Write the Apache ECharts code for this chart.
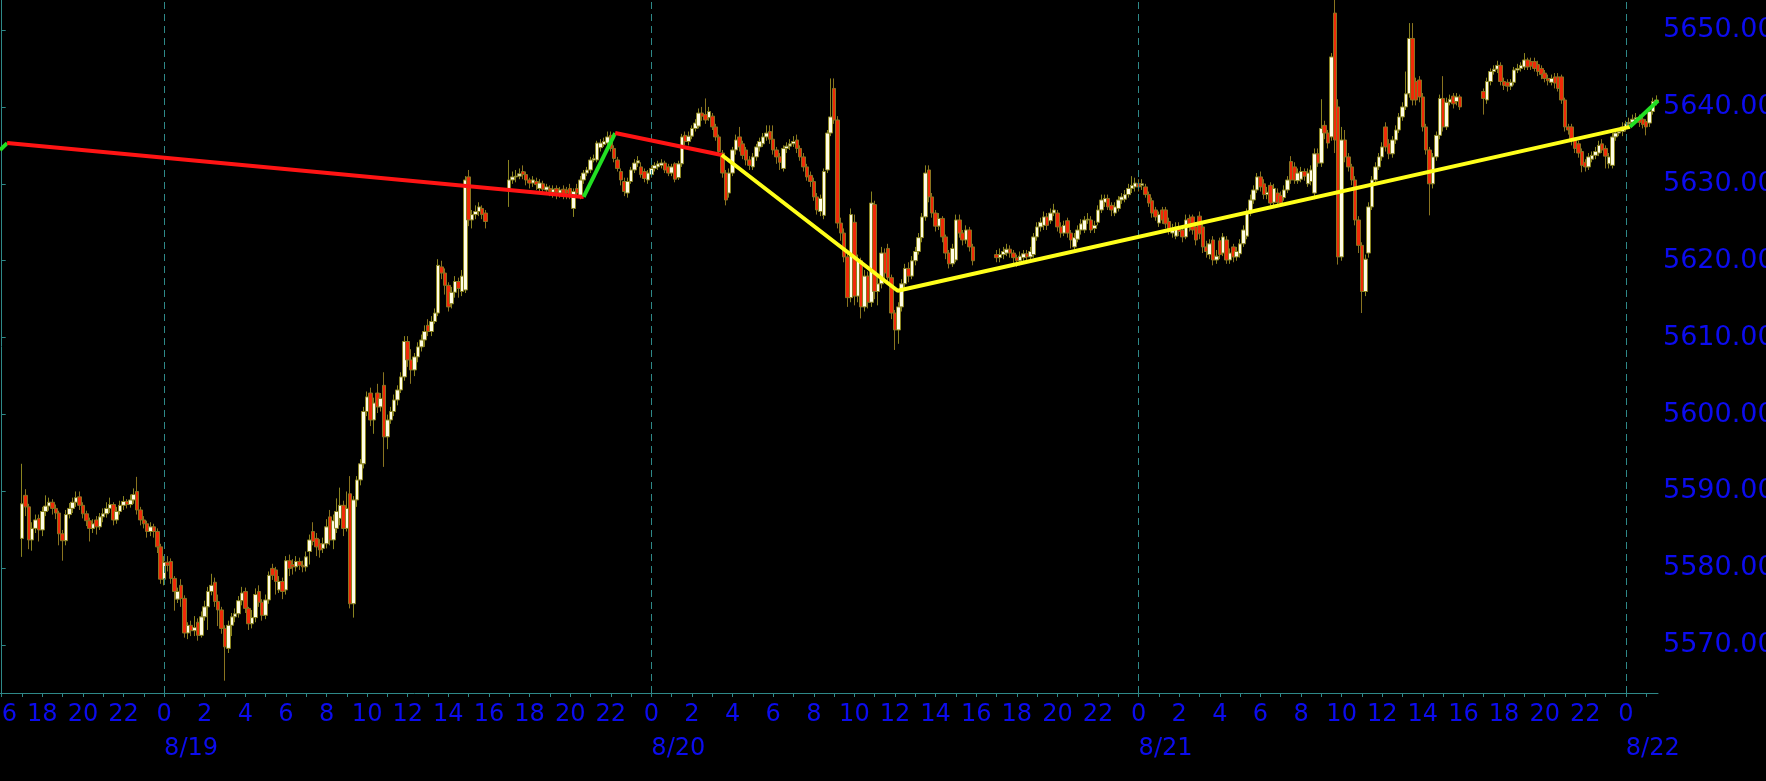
<!DOCTYPE html>
<html><head><meta charset="utf-8">
<script src="https://cdn.jsdelivr.net/npm/echarts@6/dist/echarts.min.js"></script>
<style>html,body{margin:0;padding:0;background:#000;}#c{width:1766px;height:781px;}</style>
</head><body><div id="c"></div>
<script>
// ---- time slots: 10-minute bars from 8/18 16:00 to 8/22 01:30 ----
const firstSlot = {day: 18, hour: 16};
const slotCount = 490;
const hourLabelStep = 2;      // hour labels every 2 hours
const priceMin = 5563.8, priceMax = 5653.9;

// ---- candle values, each bar: [open, close, low, high] ----
// session starting 8/18 17:00
const session0818 = [
[5583.9,5588.4,5581.5,5593.6],[5589.5,5588.0,5586.8,5590.3],[5588.0,5583.7,5582.5,5588.4],[5583.7,5585.2,5582.3,5586.0],[5585.2,5586.3,5584.6,5587.0],[5586.5,5585.0,5583.5,5587.0],
[5585.0,5587.4,5584.2,5588.0],[5587.4,5588.1,5586.8,5589.5],[5588.1,5588.6,5587.5,5589.2],[5588.6,5587.8,5587.0,5589.0],[5587.8,5587.2,5586.4,5588.3],[5587.2,5584.5,5583.0,5587.5],
[5584.5,5583.6,5581.0,5585.0],[5583.6,5587.0,5583.0,5587.6],[5587.0,5587.8,5586.5,5588.5],[5587.8,5588.6,5587.2,5589.2],[5588.6,5589.2,5588.0,5590.0],[5589.3,5588.2,5587.6,5590.0],
[5588.2,5587.1,5586.5,5588.6],[5587.1,5586.2,5585.5,5587.5],[5586.2,5585.2,5583.5,5586.6],[5585.2,5585.8,5584.6,5586.4],[5586.3,5585.4,5584.4,5586.8],[5585.4,5586.7,5585.0,5587.2],
[5586.7,5587.1,5586.0,5587.8],[5587.1,5587.8,5586.6,5588.6],[5587.8,5588.3,5587.2,5589.2],[5588.3,5586.3,5585.6,5588.6],[5586.3,5587.4,5585.8,5588.0],[5587.4,5588.2,5587.0,5588.8],
[5588.2,5588.7,5587.6,5589.4],[5588.7,5588.3,5587.8,5589.0],[5588.3,5588.9,5587.9,5589.6],[5588.9,5589.6,5588.4,5590.4],[5590.0,5587.6,5587.0,5591.9],[5587.6,5586.3,5585.6,5588.0],
[5586.3,5585.8,5585.2,5586.8],[5585.8,5584.8,5584.0,5586.2],[5584.8,5585.4,5584.2,5586.0],[5585.4,5584.8,5584.0,5585.8],[5584.8,5582.8,5582.0,5585.2],[5582.8,5578.6,5578.0,5583.2],
[5578.6,5580.8,5577.8,5581.6],[5580.8,5580.4,5579.6,5581.6],[5580.9,5578.7,5578.0,5581.3],[5578.7,5577.0,5574.5,5579.0],[5576.0,5577.0,5575.5,5577.5],[5577.8,5576.1,5575.0,5578.6],
[5576.1,5571.6,5571.0,5576.5],[5571.6,5572.6,5570.8,5573.0],[5572.6,5571.9,5571.2,5573.2],[5571.9,5572.3,5571.2,5573.8],[5573.0,5571.3,5570.6,5573.5],[5571.3,5573.7,5571.0,5574.4],
[5573.7,5575.0,5573.2,5575.8],[5575.0,5577.0,5572.0,5577.6],[5577.0,5577.8,5576.5,5579.3],[5578.2,5575.7,5575.0,5578.8],[5575.7,5574.6,5572.5,5576.6],[5574.6,5572.2,5571.5,5575.0],
[5572.2,5569.8,5565.4,5572.6],[5569.6,5572.6,5569.0,5573.2],[5572.6,5573.7,5571.2,5574.2],[5573.7,5574.1,5573.0,5574.8],[5574.1,5575.8,5573.6,5576.4],[5575.8,5576.8,5575.2,5577.6],
[5577.0,5574.8,5574.2,5577.5],[5574.8,5572.8,5572.0,5575.0],[5572.8,5573.6,5572.2,5574.6],[5573.6,5576.6,5573.0,5577.4],[5577.0,5575.6,5575.0,5577.8],[5575.6,5573.9,5573.2,5576.0],
[5573.9,5575.9,5573.4,5576.6],[5575.9,5579.1,5575.4,5579.6],[5580.0,5579.1,5578.5,5580.6],[5579.8,5578.3,5576.6,5580.2],[5577.2,5578.3,5576.8,5579.0],[5578.3,5577.0,5576.0,5578.8],
[5577.2,5581.0,5576.6,5581.6],[5581.0,5580.0,5579.0,5581.8],[5580.5,5580.2,5579.2,5581.2],[5580.2,5580.9,5579.6,5581.6],[5580.9,5580.4,5579.8,5581.4],[5580.4,5580.2,5579.5,5581.0],
[5580.2,5581.5,5579.6,5582.2],[5582.2,5583.7,5580.5,5584.4],[5584.8,5583.5,5583.0,5586.0],[5583.9,5582.8,5581.6,5584.6],[5583.2,5582.4,5581.4,5583.8],[5582.6,5583.2,5582.0,5584.0],
[5583.2,5585.4,5582.6,5586.4],[5586.7,5583.7,5583.0,5587.6],[5583.7,5586.2,5582.5,5587.0],[5585.2,5587.4,5584.6,5589.1],[5586.5,5588.2,5585.6,5590.5],[5588.2,5585.2,5584.2,5588.8],
[5585.2,5587.8,5584.8,5590.0],[5589.7,5575.4,5574.8,5592.0],[5575.4,5588.9,5573.6,5589.4],[5588.9,5591.5,5588.0,5592.0],[5591.5,5593.6,5590.8,5594.2],[5593.6,5600.4,5593.0,5601.0],
[5600.4,5602.3,5599.8,5603.0],[5602.8,5599.3,5598.5,5603.5],[5599.3,5601.5,5597.5,5602.2],[5602.8,5601.0,5600.2,5604.0],[5601.0,5602.1,5600.4,5602.8],[5603.8,5597.1,5593.2,5605.5],
[5597.1,5599.3,5595.5,5600.0],[5599.3,5600.4,5598.8,5601.0],[5600.4,5601.9,5599.8,5602.6],[5601.9,5603.2,5601.2,5603.8],[5603.2,5604.9,5602.8,5605.5],[5604.9,5609.5,5604.4,5610.2],
[5609.5,5607.1,5606.2,5610.2],[5607.1,5605.8,5604.0,5608.5],[5605.8,5607.5,5605.0,5608.0],[5607.5,5608.8,5606.8,5609.4],[5608.8,5609.7,5608.2,5610.4],[5609.7,5610.8,5608.8,5611.6],
[5611.6,5610.8,5610.2,5612.4],[5610.8,5612.1,5610.2,5612.8],[5612.1,5613.2,5611.8,5613.8],[5613.2,5619.4,5612.8,5620.2],[5619.2,5618.4,5617.6,5620.0],[5618.4,5616.8,5615.6,5619.0],
[5616.8,5614.0,5613.4,5617.2],[5614.4,5615.9,5613.8,5616.6],[5615.9,5617.3,5615.2,5618.0],[5617.3,5616.4,5615.2,5617.8],[5616.0,5618.0,5615.4,5618.8],[5616.2,5630.5,5615.8,5631.0],
[5630.9,5625.3,5624.5,5631.8],[5625.3,5626.0,5624.2,5626.6],[5626.0,5626.4,5625.4,5627.2],[5626.4,5627.0,5625.8,5627.6],[5626.8,5626.0,5625.4,5627.2],[5626.2,5625.1,5624.2,5626.6]
];
// session starting 8/19 17:00
const session0819 = [
[5629.4,5630.5,5627.0,5633.1],[5630.5,5630.9,5630.0,5631.6],[5630.9,5631.0,5630.2,5631.8],[5631.0,5631.3,5630.6,5632.0],[5631.6,5631.2,5630.6,5632.4],[5631.2,5630.5,5629.8,5631.6],
[5630.5,5630.1,5629.4,5630.8],[5630.1,5630.5,5629.6,5631.0],[5630.3,5629.9,5629.2,5630.8],[5629.4,5630.1,5628.8,5630.6],[5630.0,5629.3,5628.8,5630.4],[5629.2,5629.6,5628.6,5630.0],
[5629.4,5629.0,5628.4,5629.8],[5628.9,5629.3,5628.2,5629.8],[5629.4,5628.9,5628.0,5629.8],[5628.8,5629.2,5628.2,5629.6],[5629.3,5628.7,5628.0,5629.8],[5629.2,5628.8,5628.0,5629.6],
[5629.4,5628.5,5628.0,5630.0],[5626.8,5629.0,5625.7,5629.4],[5629.4,5628.8,5628.2,5630.0],[5628.5,5630.5,5628.0,5631.0],[5630.5,5631.4,5630.0,5631.8],[5631.4,5631.8,5631.0,5632.2],
[5631.8,5633.1,5631.4,5633.5],[5633.1,5633.3,5632.8,5633.8],[5633.1,5635.3,5632.8,5635.6],[5634.7,5635.3,5634.2,5635.8],[5635.1,5635.5,5634.8,5636.0],[5635.3,5636.1,5635.0,5636.8],
[5636.3,5634.6,5634.2,5636.8],[5634.6,5633.3,5632.8,5635.0],[5633.1,5632.0,5631.6,5633.5],[5631.6,5630.5,5629.8,5632.0],[5630.3,5629.0,5628.4,5630.8],[5628.8,5630.3,5628.2,5630.8],
[5630.3,5631.8,5630.0,5632.2],[5631.8,5632.7,5631.4,5633.2],[5632.7,5633.0,5632.2,5633.6],[5632.2,5631.2,5630.8,5632.8],[5631.6,5630.7,5630.2,5632.0],[5630.5,5631.4,5630.0,5631.8],
[5631.2,5632.0,5630.8,5632.4],[5632.0,5632.4,5631.6,5632.8],[5632.2,5632.6,5631.8,5633.0],[5632.4,5632.7,5632.0,5633.2],[5632.7,5631.8,5631.4,5633.0],[5632.2,5631.4,5631.0,5632.6],
[5631.4,5632.2,5631.0,5632.6],[5632.6,5630.6,5630.2,5632.8],[5630.8,5632.6,5630.5,5633.0],[5632.6,5636.1,5632.2,5636.5],[5636.3,5635.5,5635.0,5636.8],[5635.5,5636.2,5635.0,5636.8],
[5636.2,5637.2,5635.8,5637.6],[5637.2,5637.9,5636.8,5638.4],[5637.5,5639.2,5637.2,5639.8],[5639.2,5638.8,5638.2,5640.0],[5639.0,5638.3,5637.8,5641.1],[5638.6,5639.4,5638.2,5640.0],
[5638.8,5637.4,5637.0,5639.2],[5637.4,5636.1,5635.6,5637.8],[5636.1,5634.2,5633.8,5636.4],[5634.0,5631.4,5630.8,5634.4],[5631.4,5627.9,5627.2,5631.8],[5628.8,5631.4,5628.2,5632.0],
[5631.4,5634.4,5631.0,5634.8],[5634.4,5635.7,5633.8,5636.4],[5636.1,5634.8,5634.2,5637.4],[5635.2,5633.7,5633.2,5635.6],[5634.4,5633.1,5632.4,5634.8],[5633.1,5632.4,5631.8,5633.6],
[5632.2,5633.5,5631.8,5634.0],[5633.5,5634.8,5633.0,5635.2],[5634.8,5635.5,5634.2,5636.0],[5635.2,5636.1,5634.8,5636.6],[5636.1,5636.6,5635.6,5637.6],[5636.8,5635.8,5635.2,5637.6],
[5635.8,5634.4,5633.8,5637.6],[5634.4,5633.5,5632.6,5634.8],[5633.5,5632.8,5631.8,5634.0],[5632.0,5634.6,5631.6,5635.0],[5634.6,5634.9,5634.0,5635.4],[5634.9,5635.2,5634.4,5635.8],
[5635.2,5635.5,5634.8,5636.2],[5635.7,5634.6,5634.0,5636.4],[5634.6,5633.5,5633.0,5635.0],[5633.5,5632.2,5631.6,5634.0],[5632.2,5630.9,5630.4,5632.6],[5631.1,5630.3,5629.6,5631.6],
[5630.3,5628.3,5627.8,5630.8],[5628.3,5626.6,5626.0,5628.8],[5626.4,5628.1,5625.8,5628.6],[5625.9,5631.6,5625.4,5632.0],[5631.8,5636.6,5631.4,5637.0],[5636.6,5638.7,5636.2,5643.7],
[5642.4,5638.3,5637.8,5643.7],[5638.3,5624.9,5624.2,5638.8],[5624.9,5623.6,5622.6,5625.6],[5623.6,5620.5,5619.8,5624.2],[5620.5,5615.2,5614.0,5621.0],[5615.2,5626.0,5614.6,5626.8],
[5625.0,5615.4,5614.2,5626.0],[5615.4,5620.0,5614.6,5620.8],[5620.0,5614.0,5612.5,5620.4],[5614.0,5618.0,5613.4,5618.8],[5618.0,5614.6,5613.8,5618.6],[5614.6,5627.5,5614.0,5629.0],
[5627.3,5616.0,5615.0,5627.8],[5616.0,5617.0,5614.2,5618.0],[5617.0,5621.0,5616.4,5621.8],[5621.0,5618.4,5617.6,5621.6],[5621.6,5617.8,5617.0,5622.2],[5617.8,5613.2,5612.4,5618.2],
[5613.2,5611.0,5608.4,5613.6],[5611.0,5614.0,5609.2,5614.6],[5614.0,5617.0,5613.4,5617.6],[5617.0,5619.0,5616.4,5619.6],[5619.0,5618.0,5617.2,5619.8],[5618.0,5620.0,5617.6,5620.6],
[5620.0,5621.2,5619.4,5621.8],[5621.2,5623.0,5620.8,5623.6],[5623.0,5625.7,5622.4,5626.2],[5625.7,5631.4,5625.2,5632.4],[5631.8,5628.3,5627.6,5632.4],[5628.3,5626.2,5625.6,5628.8],
[5626.2,5624.5,5623.8,5626.6],[5624.5,5625.5,5624.0,5626.2],[5625.5,5623.1,5622.4,5625.8],[5623.1,5621.0,5620.2,5623.4],[5621.0,5619.6,5619.0,5621.4],[5619.6,5621.6,5619.2,5622.2],
[5620.1,5625.3,5619.8,5626.0],[5625.3,5623.6,5623.0,5626.0],[5623.6,5622.7,5622.0,5624.0],[5622.7,5624.0,5622.2,5624.6],[5624.0,5621.8,5621.2,5624.4],[5621.8,5620.0,5619.4,5622.2]
];
// session starting 8/20 17:00
const session0820 = [
[5620.8,5620.4,5619.8,5621.4],[5620.4,5620.8,5619.8,5621.6],[5620.8,5621.2,5620.2,5621.8],[5621.0,5621.5,5620.6,5622.2],[5621.5,5621.0,5620.4,5622.0],[5621.0,5620.4,5619.6,5621.4],
[5620.4,5620.0,5619.2,5620.8],[5620.0,5620.6,5619.4,5621.2],[5620.4,5620.9,5619.8,5621.4],[5620.9,5620.5,5619.6,5621.4],[5620.5,5621.2,5620.0,5621.8],[5620.8,5623.1,5620.4,5623.6],
[5623.1,5624.4,5622.6,5625.0],[5624.4,5625.0,5623.8,5625.6],[5624.6,5625.7,5624.0,5626.4],[5625.7,5624.6,5624.0,5626.2],[5625.2,5626.2,5624.8,5626.8],[5626.2,5626.6,5625.8,5627.4],
[5626.2,5624.4,5623.8,5626.6],[5624.4,5623.6,5623.0,5625.0],[5623.6,5624.6,5623.2,5625.2],[5625.2,5623.6,5623.0,5625.6],[5623.6,5622.7,5621.6,5624.0],[5621.8,5623.0,5621.2,5623.6],
[5622.8,5624.0,5622.4,5624.6],[5624.0,5624.8,5623.4,5625.4],[5624.0,5625.3,5623.6,5625.8],[5625.3,5625.4,5624.8,5626.2],[5625.3,5624.0,5623.6,5625.8],[5624.2,5624.6,5623.6,5625.2],
[5625.0,5626.6,5624.6,5627.2],[5626.6,5627.9,5626.2,5628.6],[5627.6,5628.1,5627.0,5628.6],[5628.1,5627.0,5626.6,5628.6],[5627.2,5626.6,5625.8,5627.6],[5626.2,5627.0,5625.8,5627.6],
[5626.8,5627.9,5626.4,5628.4],[5627.9,5628.3,5627.4,5628.8],[5628.0,5628.6,5627.6,5629.2],[5628.6,5629.4,5628.2,5630.0],[5629.4,5629.8,5628.8,5631.0],[5629.6,5630.1,5629.0,5630.8],
[5630.0,5629.6,5629.0,5630.6],[5629.8,5630.0,5629.2,5630.6],[5629.6,5628.6,5628.2,5630.0],[5628.6,5627.5,5627.0,5629.0],[5627.8,5626.2,5625.6,5628.2],[5626.6,5625.7,5625.2,5627.0],
[5624.9,5626.0,5624.4,5626.4],[5626.6,5625.3,5624.8,5627.0],[5626.6,5624.8,5624.2,5627.0],[5625.1,5624.0,5623.4,5625.6],[5623.6,5624.2,5623.0,5624.8],[5623.2,5624.4,5622.8,5625.0],
[5624.4,5623.8,5623.2,5625.0],[5624.0,5623.1,5622.4,5624.4],[5623.1,5625.3,5622.8,5626.0],[5625.5,5624.4,5623.8,5626.0],[5625.7,5624.0,5623.4,5626.0],[5624.4,5622.7,5622.0,5625.0],
[5625.8,5623.5,5622.8,5626.4],[5624.4,5621.8,5621.0,5624.8],[5621.8,5621.2,5620.4,5622.6],[5620.8,5622.2,5620.2,5622.8],[5622.7,5620.1,5619.4,5623.2],[5620.1,5620.6,5619.6,5621.4],
[5622.6,5620.8,5620.2,5623.0],[5621.0,5623.1,5620.6,5623.6],[5622.7,5620.1,5619.6,5623.2],[5620.1,5621.0,5619.6,5621.6],[5621.8,5620.5,5619.8,5622.2],[5620.5,5621.2,5620.0,5621.8],
[5620.9,5622.2,5620.4,5622.8],[5622.2,5624.0,5621.8,5624.6],[5623.2,5626.2,5622.8,5626.8],[5626.2,5627.9,5625.8,5628.6],[5627.9,5629.2,5627.4,5629.8],[5629.2,5630.9,5628.8,5631.4],
[5630.9,5629.6,5629.0,5631.6],[5630.0,5628.6,5628.0,5630.6],[5628.6,5628.9,5628.0,5629.6],[5629.8,5627.5,5626.8,5630.2],[5627.6,5629.4,5627.2,5630.0],[5628.8,5627.6,5627.0,5629.4],
[5628.5,5627.5,5627.0,5629.0],[5628.2,5629.2,5627.8,5629.8],[5629.2,5630.5,5628.8,5631.0],[5632.9,5630.5,5630.0,5633.6],[5632.2,5630.5,5630.0,5632.8],[5630.4,5631.4,5630.0,5632.0],
[5630.6,5631.6,5630.2,5632.2],[5631.6,5631.0,5630.4,5632.0],[5630.0,5631.4,5629.6,5632.0],[5630.3,5631.8,5629.8,5632.4],[5628.8,5633.9,5628.0,5634.6],[5633.9,5632.7,5632.2,5634.6],
[5632.7,5637.2,5632.2,5641.0],[5637.6,5636.6,5635.8,5638.2],[5636.6,5635.3,5634.6,5637.0],[5636.1,5646.5,5635.6,5647.0],[5652.2,5635.7,5634.0,5654.0],[5640.0,5620.5,5619.5,5641.0],
[5620.5,5635.7,5620.0,5637.4],[5635.7,5633.5,5632.8,5637.0],[5633.5,5632.2,5631.6,5634.0],[5632.2,5630.5,5629.8,5632.6],[5630.5,5625.3,5624.6,5631.0],[5625.3,5622.0,5621.0,5625.8],
[5622.0,5616.0,5613.2,5622.4],[5616.0,5620.2,5615.4,5620.8],[5621.0,5627.0,5620.4,5627.6],[5627.0,5630.5,5626.6,5631.0],[5630.5,5632.2,5630.0,5632.8],[5632.2,5633.5,5631.8,5634.0],
[5633.5,5634.8,5633.0,5635.4],[5637.4,5634.8,5634.2,5638.0],[5635.2,5633.9,5633.2,5635.8],[5633.9,5635.7,5633.4,5636.2],[5635.7,5637.0,5635.2,5637.6],[5637.0,5638.7,5636.6,5639.2],
[5638.7,5640.0,5638.2,5640.6],[5640.0,5641.7,5639.6,5644.6],[5641.7,5648.9,5641.2,5650.9],[5648.9,5640.9,5640.2,5650.9],[5643.3,5640.9,5640.2,5643.8],[5643.5,5641.3,5640.6,5644.0],
[5641.3,5637.4,5636.8,5641.8],[5637.4,5634.4,5633.8,5637.8],[5634.4,5630.0,5625.9,5634.8],[5630.0,5633.5,5629.4,5634.0],[5633.5,5636.3,5633.0,5636.8],[5636.3,5641.1,5635.8,5641.6],
[5641.1,5637.4,5636.8,5644.0],[5637.4,5640.6,5637.0,5641.2],[5640.6,5641.0,5640.2,5641.6],[5641.4,5640.4,5639.8,5641.8],[5640.7,5641.3,5640.2,5641.8],[5641.3,5640.0,5639.6,5641.6]
];
// session starting 8/21 17:00
const session0821 = [
[5642.0,5641.1,5639.0,5642.4],[5640.9,5643.3,5640.4,5643.8],[5643.3,5644.6,5642.8,5645.0],[5644.6,5644.9,5644.2,5645.4],[5644.9,5645.4,5644.4,5646.0],[5645.4,5643.3,5642.8,5645.8],
[5643.3,5642.8,5642.2,5643.8],[5643.2,5642.7,5642.0,5643.6],[5642.7,5643.2,5642.2,5643.6],[5643.2,5644.8,5642.8,5645.2],[5644.8,5645.0,5644.4,5645.6],[5645.0,5645.4,5644.6,5645.8],
[5645.2,5646.1,5644.8,5647.0],[5646.1,5645.2,5644.8,5646.4],[5645.9,5645.3,5644.8,5646.4],[5645.9,5645.0,5644.6,5646.4],[5645.5,5644.6,5644.0,5646.0],[5645.0,5644.2,5643.6,5645.4],
[5644.4,5643.7,5643.2,5644.8],[5643.7,5643.4,5642.8,5644.2],[5643.2,5643.7,5642.8,5644.2],[5643.9,5643.1,5642.4,5644.4],[5643.9,5642.4,5642.0,5644.4],[5643.9,5640.9,5640.4,5644.2],
[5640.9,5637.4,5636.8,5641.2],[5637.4,5637.0,5636.4,5637.8],[5637.4,5635.7,5635.0,5637.8],[5635.7,5634.6,5634.0,5636.0],[5635.2,5634.0,5633.4,5635.6],[5634.2,5632.4,5631.5,5634.6],
[5632.8,5632.2,5631.6,5633.2],[5632.2,5633.5,5631.8,5634.0],[5633.2,5633.7,5632.8,5634.2],[5633.7,5634.2,5633.2,5634.8],[5634.0,5635.0,5633.6,5635.6],[5635.2,5634.4,5634.0,5635.8],
[5634.6,5633.6,5632.0,5635.0],[5632.6,5633.5,5632.0,5634.0],[5632.4,5636.1,5632.0,5636.6],[5636.1,5636.6,5635.6,5637.0],[5636.6,5636.8,5636.2,5637.2],[5636.8,5637.4,5636.2,5638.0],
[5637.4,5637.8,5636.8,5638.2],[5637.8,5638.0,5637.4,5638.6],[5638.0,5638.4,5637.6,5639.0],[5638.4,5638.6,5638.0,5639.2],[5638.6,5638.0,5637.4,5639.0],[5638.4,5637.7,5637.2,5638.8],
[5638.1,5637.4,5636.3,5638.4],[5637.9,5639.4,5637.4,5639.8],[5639.4,5640.7,5639.0,5641.2],[5640.7,5640.9,5640.2,5641.5]
];
const sessionStarts = ['8/18 17:00', '8/19 17:00', '8/20 17:00', '8/21 17:00'];
const dayBoundaries = ['8/19 00:00', '8/20 00:00', '8/21 00:00', '8/22 00:00'];

// ---- swing line turning points: [slot position, price] ----
const swingGreenA = [[-0.5, 5634.4], [1.6, 5635.3]];
const swingRedA   = [[1.6, 5635.3], [172.0, 5628.3]];
const swingGreenB = [[172.0, 5628.3], [181.3, 5636.6]];
const swingRedB   = [[181.3, 5636.6], [212.8, 5633.75]];
const swingYellow = [[212.8, 5633.75], [264.8, 5616.1], [481.2, 5637.4]];
const swingGreenC = [[481.2, 5637.4], [489.5, 5640.8]];

// ---- build category labels ----
const categories = [];
for (let i = 0; i < slotCount; i++) {
  const m = firstSlot.hour * 60 + i * 10;
  const day = firstSlot.day + Math.floor(m / 1440);
  const mm = m % 1440;
  const h = Math.floor(mm / 60), mi = mm % 60;
  categories.push('8/' + day + ' ' + String(h).padStart(2, '0') + ':' + String(mi).padStart(2, '0'));
}
const candleData = categories.map(() => ['-', '-', '-', '-']);
[session0818, session0819, session0820, session0821].forEach((bars, k) => {
  const s = categories.indexOf(sessionStarts[k]);
  bars.forEach((b, j) => { candleData[s + j] = b; });
});

const axisColor = '#2e8888';
const textBlue = '#0c0cee';
const font = 'DejaVu Sans';

function swing(data, color) {
  return { type: 'line', xAxisIndex: 2, yAxisIndex: 0, data: data, symbol: 'none',
    lineStyle: { color: color, width: 4 }, z: 5, silent: true };
}

const chart = echarts.init(document.getElementById('c'), null, { renderer: 'canvas' });
chart.setOption({
  backgroundColor: '#000000',
  animation: false,
  grid: { left: 0, right: 108, top: 0, bottom: 88, containLabel: false, outerBoundsMode: 'none' },
  xAxis: [
    { type: 'category', data: categories, boundaryGap: true, position: 'bottom',
      axisLine: { show: true, lineStyle: { color: axisColor, width: 1 } },
      axisTick: { show: true, alignWithLabel: true, length: 4, interval: (i) => i % 6 === 0,
                  lineStyle: { color: axisColor } },
      axisLabel: { interval: (i, v) => { const h = +v.slice(-5, -3), mi = +v.slice(-2); return mi === 0 && h % hourLabelStep === 0; },
                   formatter: (v) => String(+v.slice(-5, -3)),
                   color: textBlue, fontFamily: font, fontSize: 24, margin: 10 },
      splitLine: { show: false } },
    { type: 'category', data: categories, boundaryGap: true, position: 'bottom',
      axisLine: { show: false }, axisTick: { show: false },
      axisLabel: { interval: (i, v) => v.endsWith(' 00:00'), formatter: (v) => v.split(' ')[0],
                   align: 'left', color: textBlue, fontFamily: font, fontSize: 24, margin: 44 },
      splitLine: { show: false } },
    { type: 'value', min: -0.5, max: slotCount - 0.5, show: false, position: 'top' }
  ],
  yAxis: [
    { type: 'value', position: 'right', min: priceMin, max: priceMax, splitNumber: 9,
      axisLine: { show: true, lineStyle: { color: axisColor, width: 1 } },
      axisTick: { show: true, length: 4, lineStyle: { color: axisColor } },
      axisLabel: { formatter: (v) => v.toFixed(3), showMinLabel: false, showMaxLabel: false,
                   color: textBlue, fontFamily: font, fontSize: 27, margin: 5 },
      splitLine: { show: false } }
  ],
  series: [
    { type: 'candlestick', xAxisIndex: 0, yAxisIndex: 0, data: candleData, barWidth: 4,
      itemStyle: { color: '#fffce6', color0: '#f02a08', borderColor: '#8a8420', borderColor0: '#8a7420', borderWidth: 1 },
      markLine: { silent: true, symbol: ['none', 'none'], label: { show: false },
        lineStyle: { color: axisColor, type: [7, 5], width: 1 },
        data: dayBoundaries.map(d => ({ xAxis: d })) } },
    swing(swingGreenA, '#22e022'), swing(swingRedA, '#ff1414'), swing(swingGreenB, '#22e022'),
    swing(swingRedB, '#ff1414'), swing(swingYellow, '#ffff1a'), swing(swingGreenC, '#22e022')
  ]
});
</script></body></html>
